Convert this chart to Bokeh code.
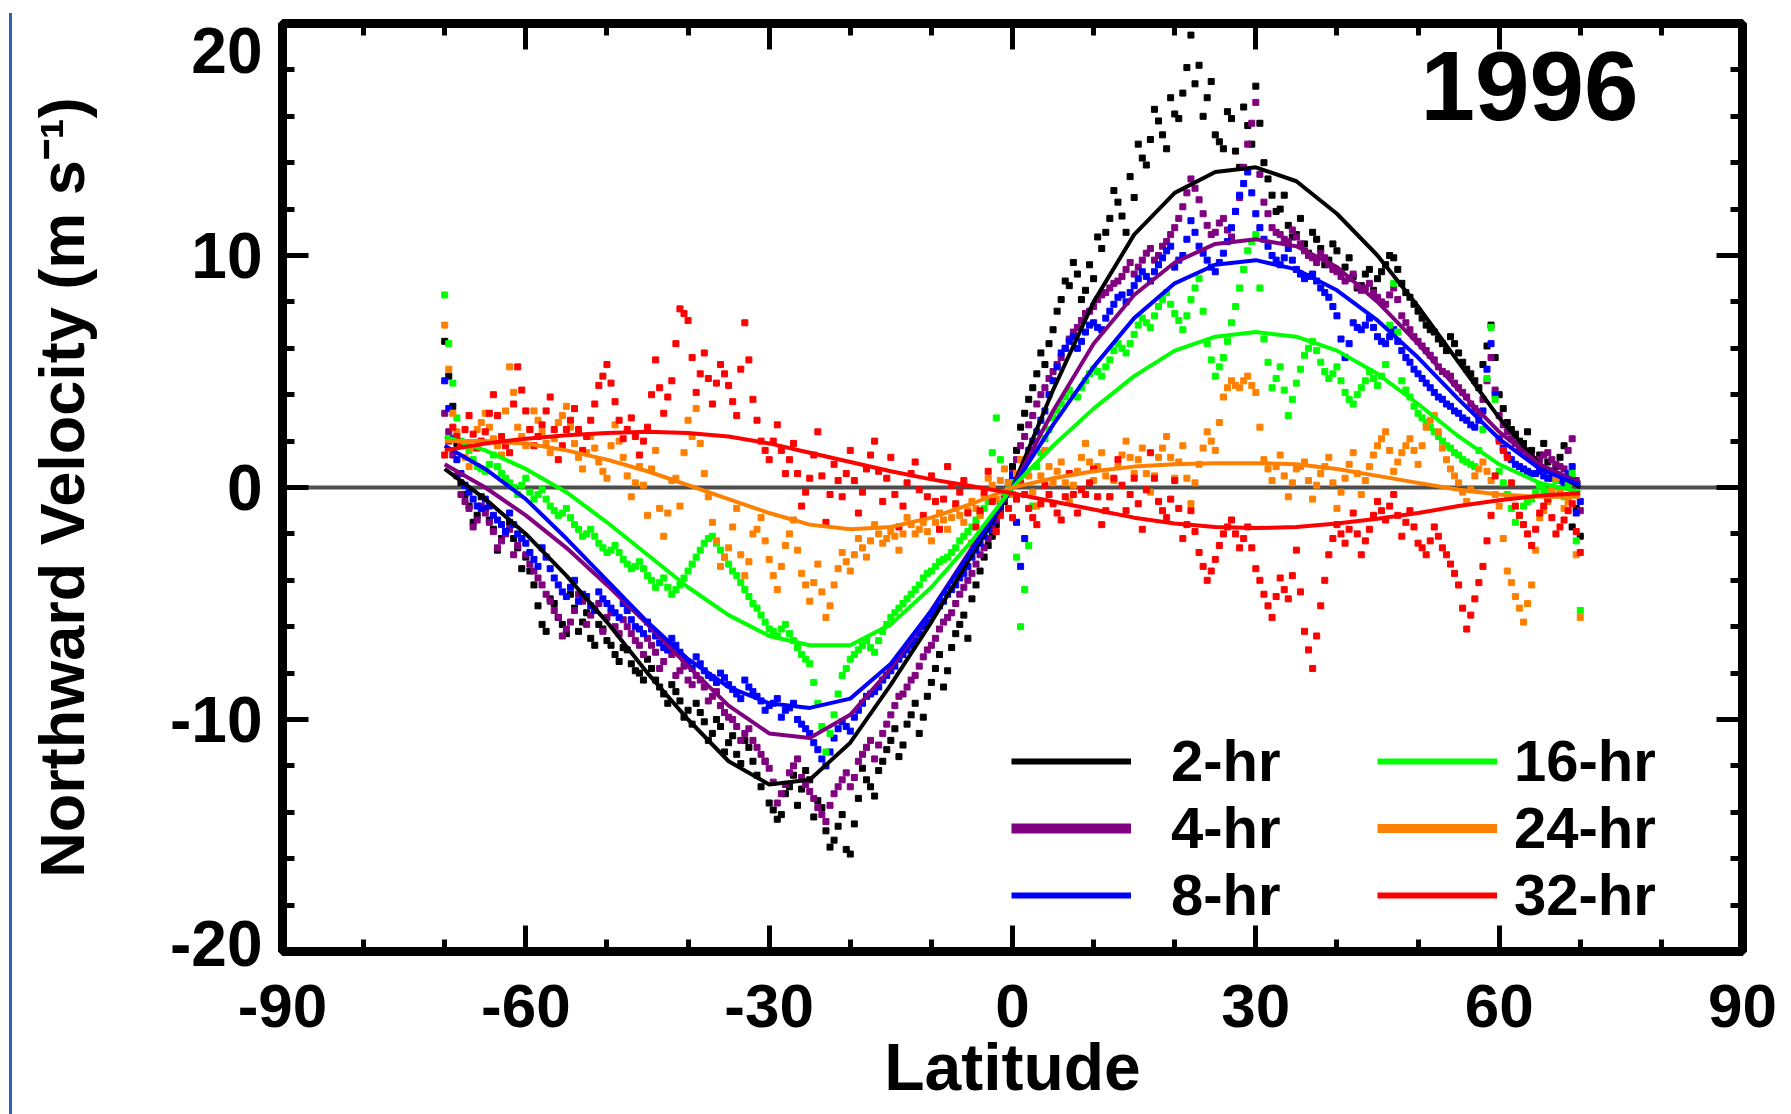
from bokeh.plotting import figure
from bokeh.models import (Range1d, SingleIntervalTicker, LinearAxis, Span, Label,
                          Legend, LegendItem, CustomJSTickFormatter)
from bokeh.embed import file_html
from bokeh.resources import INLINE

# ---------------- data ----------------
lat_start_a = -70.0     # first set of observed points: one per degree from -70
lat_start_b = -69.5     # second set of observed points: one per degree from -69.5
lat_fit = list(range(-70, 71, 5))       # latitude of fitted curves (deg)

labels = ["2-hr", "4-hr", "8-hr", "16-hr", "24-hr", "32-hr"]
colors = ["#000000", "#800080", "#0000ff", "#00ff00", "#ff8000", "#ff0000"]

pts_2hr_a = [6.3, 3.5, 0.2, -0.8, -1.2, -0.9, -1.8, -2.2, -1.5, -2.6, -3.0, -4.2, -5.9, -4.8, -5.6, -6.3,
             -5.2, -5.8, -6.5, -5.9, -6.6, -7.2, -6.9, -7.6, -8.0, -7.4, -8.3, -8.9, -8.5, -9.2, -9.6,
             -9.3, -10.1, -10.6, -10.3, -11.0, -11.5, -10.9, -11.8, -12.9, -13.6, -14.3, -13.2, -12.4,
             -13.0, -12.6, -13.5, -14.8, -15.2, -14.1, -15.8, -13.4, -12.6, -13.3, -11.8, -10.9, -11.6,
             -10.2, -9.3, -9.9, -8.4, -7.2, -7.9, -6.3, -5.5, -4.8, -3.6, -2.5, -1.6, -0.6, 0.9, 2.6,
             3.8, 4.9, 5.3, 6.8, 8.1, 8.7, 9.2, 8.5, 9.0, 10.3, 11.6, 12.3, 11.0, 12.5, 14.2, 15.0, 15.8,
             14.6, 16.1, 17.0, 19.5, 18.2, 16.8, 15.2, 14.6, 15.9, 13.8, 15.6, 17.3, 14.0, 12.6, 12.0,
             11.3, 10.9, 10.5, 11.0, 10.3, 9.8, 10.2, 9.5, 9.1, 8.7, 9.4, 9.0, 9.6, 9.9, 8.8, 8.2, 7.6,
             7.0, 6.7, 6.2, 6.5, 5.8, 5.1, 4.6, 5.3, 7.0, 4.0, 2.8, 2.3, 1.9, 1.6, 1.4, 1.1, 0.9, 1.8,
             -1.7, -2.1]
pts_2hr_b = [4.8, 1.9, -0.3, -1.5, -0.4, -1.4, -2.7, -1.9, -2.2, -3.5, -3.6, -5.1, -6.2, -5.0, -5.9, -4.6,
             -6.2, -5.4, -6.8, -6.1, -6.8, -7.5, -7.0, -7.9, -8.3, -7.8, -8.6, -9.3, -8.8, -9.9, -10.2,
             -9.7, -10.9, -10.0, -11.4, -10.7, -11.9, -11.2, -12.4, -11.8, -13.9, -14.1, -12.9, -13.7,
             -12.2, -14.2, -13.8, -15.5, -14.6, -15.6, -14.5, -12.1, -12.9, -12.2, -11.3, -10.4, -11.1,
             -9.8, -10.6, -9.0, -7.8, -8.6, -6.9, -5.9, -6.5, -4.2, -3.0, -2.1, -1.0, 0.2, 1.6, 3.2, 4.3,
             5.8, 6.2, 7.6, 8.9, 9.7, 8.1, 9.6, 10.8, 11.0, 12.8, 11.7, 13.4, 14.8, 13.9, 16.3, 15.2,
             16.8, 15.9, 18.1, 17.4, 16.0, 17.5, 14.9, 16.2, 14.5, 16.4, 14.8, 15.7, 13.3, 11.9, 12.6,
             10.8, 11.6, 10.1, 10.7, 9.6, 10.5, 9.3, 9.9, 8.6, 9.2, 8.5, 9.3, 10.0, 9.4, 8.4, 7.9, 7.3,
             6.8, 6.4, 5.9, 6.2, 5.4, 4.9, 4.3, 6.1, 5.6, 3.4, 2.5, 2.0, 2.4, 1.2, 1.9, 0.7, 1.3, 0.4,
             -0.9]
pts_4hr_a = [3.2, 1.4, -0.3, -0.9, -1.4, -1.1, -1.9, -2.3, -1.8, -2.5, -2.9, -3.6, -4.2, -4.9, -5.6, -6.1,
             -5.3, -4.9, -5.5, -5.0, -5.6, -6.0, -5.7, -6.3, -6.8, -6.5, -7.1, -7.5, -7.2, -7.9, -8.3,
             -8.1, -8.6, -9.0, -9.4, -9.9, -10.3, -10.6, -10.9, -11.5, -12.1, -13.6, -12.8, -12.0,
             -12.5, -13.1, -13.8, -14.4, -13.2, -12.6, -12.9, -11.8, -11.2, -11.7, -10.6, -9.8, -9.0,
             -8.6, -8.1, -7.3, -6.8, -6.1, -5.6, -5.0, -4.3, -3.7, -2.9, -2.2, -1.4, -0.4, 0.6, 1.8,
             2.7, 3.6, 4.3, 5.0, 5.6, 6.4, 6.9, 7.5, 7.8, 8.3, 8.6, 8.9, 9.4, 9.2, 9.8, 10.3, 10.0,
             10.6, 11.2, 12.1, 13.3, 12.4, 11.3, 11.0, 11.6, 10.8, 12.5, 14.8, 16.6, 12.3, 11.2, 10.9,
             10.6, 10.8, 10.2, 9.9, 10.1, 9.6, 9.3, 8.9, 9.2, 8.5, 8.8, 8.2, 7.9, 8.6, 7.4, 6.8, 6.3,
             5.9, 5.5, 5.0, 4.8, 4.3, 3.9, 3.4, 3.8, 5.6, 3.1, 2.4, 1.9, 1.6, 1.3, 1.2, 1.5, 1.0, 0.8,
             2.1, -1.0]
pts_4hr_b = [2.4, 0.5, -0.6, -1.7, -0.8, -1.5, -2.6, -2.0, -2.9, -2.2, -3.3, -3.9, -4.6, -5.3, -6.4, -5.8,
             -4.6, -5.9, -5.3, -6.2, -5.4, -6.3, -6.0, -6.6, -7.2, -6.8, -7.8, -7.0, -8.1, -7.7, -8.5,
             -8.3, -9.2, -8.8, -9.7, -10.0, -10.9, -10.4, -11.2, -11.8, -12.7, -13.2, -12.3, -11.7,
             -12.8, -13.4, -14.1, -13.7, -12.9, -12.3, -12.5, -11.5, -10.9, -11.1, -10.2, -9.4, -8.9,
             -8.3, -7.7, -7.0, -6.5, -5.8, -5.4, -4.6, -4.0, -3.3, -2.6, -1.8, -0.9, 0.1, 1.2, 2.2, 3.1,
             4.0, 4.7, 5.3, 6.0, 6.7, 7.2, 7.6, 8.1, 8.4, 8.8, 9.1, 9.7, 9.5, 10.1, 9.8, 10.4, 10.9,
             11.6, 12.7, 12.9, 11.8, 10.9, 11.4, 11.1, 11.9, 13.8, 15.7, 13.5, 11.8, 11.0, 10.7, 11.1,
             10.5, 10.0, 9.7, 9.9, 9.4, 9.1, 9.0, 8.7, 8.6, 8.4, 8.0, 8.3, 8.1, 7.1, 6.5, 6.1, 5.7, 5.2,
             4.9, 4.5, 4.1, 3.6, 3.2, 4.6, 4.2, 2.7, 2.1, 1.7, 1.4, 1.1, 1.4, 1.2, 0.9, 1.6, 0.3]
pts_8hr_a = [4.6, 2.1, 0.6, -0.2, -0.8, -0.5, -1.2, -1.6, -1.1, -2.0, -2.4, -3.1, -2.6, -3.5, -4.2, -4.7,
             -4.0, -4.6, -5.1, -4.5, -5.0, -5.4, -5.0, -5.7, -6.1, -5.8, -6.4, -6.9, -6.5, -7.1, -7.6,
             -7.3, -7.9, -8.2, -8.0, -8.5, -8.9, -8.3, -8.8, -9.2, -9.4, -9.1, -9.6, -9.3, -10.2, -10.6,
             -11.3, -12.0, -10.8, -10.1, -10.5, -9.6, -9.0, -8.8, -8.3, -7.9, -7.4, -7.0, -6.6, -6.0,
             -5.5, -5.1, -4.6, -4.2, -3.7, -3.0, -2.4, -1.8, -1.2, -0.3, 0.5, -3.4, 1.6, 2.4, 3.3, 4.6,
             5.8, 6.3, 6.0, 6.7, 7.1, 6.8, 7.6, 8.2, 8.0, 8.7, 9.3, 8.9, 9.6, 10.2, 9.5, 10.0, 11.5,
             10.4, 9.8, 9.3, 10.1, 11.2, 12.6, 13.6, 11.8, 10.7, 10.0, 9.6, 10.3, 9.4, 9.0, 9.2, 8.6,
             8.2, 7.4, 5.6, 7.1, 6.8, 7.3, 6.5, 6.2, 6.8, 5.9, 5.4, 4.9, 4.5, 4.1, 3.8, 3.5, 3.2, 2.9,
             2.6, 3.3, 6.2, 2.1, 1.4, 1.0, 0.8, 0.6, 0.7, 0.4, 0.5, 0.2, 0.9, -0.6]
pts_8hr_b = [3.4, 1.2, 0.1, -0.5, -0.9, -0.8, -1.4, -1.9, -1.6, -2.2, -2.8, -3.4, -3.0, -3.9, -4.5, -4.3,
             -4.9, -4.7, -5.3, -4.8, -5.2, -5.6, -5.3, -6.0, -6.3, -6.1, -6.7, -7.0, -6.8, -7.4, -7.8,
             -7.6, -8.1, -8.4, -8.2, -8.7, -9.1, -8.6, -9.0, -9.6, -9.3, -9.9, -9.5, -10.0, -10.4,
             -11.0, -11.7, -11.4, -10.4, -10.3, -9.9, -9.3, -8.9, -8.6, -8.1, -7.7, -7.2, -6.8, -6.3,
             -5.8, -5.3, -4.9, -4.4, -3.9, -3.4, -2.7, -2.1, -1.5, -0.8, 0.1, -1.5, -2.2, 2.0, 2.9, 4.0,
             5.2, 6.0, 6.5, 6.3, 7.0, 6.9, 7.3, 7.9, 8.3, 8.4, 9.0, 9.1, 9.3, 9.9, 10.4, 9.8, 10.7,
             11.0, 10.1, 9.5, 9.7, 10.6, 11.9, 13.1, 12.7, 11.2, 10.4, 9.8, 9.9, 9.8, 9.2, 9.1, 8.9,
             8.4, 7.8, 6.4, 6.2, 6.9, 7.0, 6.9, 6.3, 6.5, 6.3, 5.6, 5.1, 4.7, 4.3, 3.9, 3.6, 3.3, 3.0,
             2.7, 2.9, 5.1, 4.0, 1.7, 1.2, 0.9, 0.7, 0.6, 0.5, 0.4, 0.3, 0.6, -1.1]
pts_16hr_a = [8.3, 4.5, 2.0, 1.6, 0.9, 0.7, 1.4, 0.6, 0.2, -0.3, 0.4, -0.5, -0.1, -0.8, -1.2, -0.9, -1.6,
              -2.1, -1.8, -2.4, -2.8, -2.5, -3.1, -3.5, -3.2, -3.8, -4.3, -3.9, -4.6, -4.2, -3.6, -3.0,
              -2.4, -2.1, -2.7, -3.3, -3.8, -4.4, -5.0, -5.5, -6.1, -6.4, -5.9, -6.6, -7.2, -7.6, -9.3,
              -11.4, -9.8, -8.1, -7.4, -7.0, -6.6, -7.1, -6.2, -5.6, -5.2, -4.8, -4.4, -3.9, -3.6, -3.2,
              -3.0, -2.6, -2.1, -1.7, -1.2, -0.6, 3.0, -0.3, 0.2, -6.0, -2.5, 0.9, 2.1, 3.0, 3.6, 4.2,
              3.9, 4.6, 5.1, 4.8, 5.5, 6.2, 5.8, 6.6, 7.3, 6.9, 7.8, 8.4, 7.5, 6.8, 8.1, 9.0, 6.2, 4.8,
              5.6, 7.1, 8.6, 10.2, 10.9, 6.4, 4.3, 5.2, 3.1, 4.5, 5.7, 6.3, 5.4, 4.7, 5.2, 4.1, 3.6, 4.3,
              5.0, 4.4, 5.3, 8.8, 4.6, 3.9, 3.2, 2.8, 2.4, 2.0, 1.7, 1.4, 1.1, 0.9, 2.5, 6.9, 0.7, -0.3,
              -1.5, -0.8, -0.5, 0.1, -0.2, 0.3, -0.4, 0.6, -5.3]
pts_16hr_b = [6.2, 3.0, 1.8, 1.2, 0.8, 1.0, 0.9, 0.4, 0.0, 0.1, -0.2, -0.3, -0.5, -1.0, -1.1, -1.3, -1.8,
              -2.0, -2.1, -2.6, -2.7, -2.8, -3.3, -3.4, -3.5, -4.0, -4.1, -4.3, -4.4, -3.9, -3.3, -2.7,
              -2.2, -2.4, -3.0, -3.6, -4.1, -4.7, -5.2, -5.8, -6.2, -6.1, -6.3, -6.9, -7.4, -8.4, -10.3,
              -10.6, -8.9, -7.8, -7.2, -6.8, -6.9, -6.6, -5.9, -5.4, -5.0, -4.6, -4.2, -3.7, -3.4, -3.1,
              -2.8, -2.3, -1.9, -1.4, -0.9, 1.5, 1.2, -0.1, -3.0, -4.4, -0.8, 1.5, 2.5, 3.3, 3.9, 4.0,
              4.3, 4.9, 5.0, 5.2, 5.9, 6.0, 6.2, 7.0, 7.1, 7.4, 8.1, 7.9, 7.2, 7.4, 8.6, 7.6, 5.5, 5.2,
              6.3, 7.8, 9.4, 10.6, 8.6, 5.4, 4.7, 4.2, 3.8, 5.1, 6.0, 5.9, 5.0, 4.9, 4.6, 3.8, 4.0, 4.6,
              4.7, 4.8, 7.0, 6.7, 4.2, 3.5, 3.0, 2.6, 2.2, 1.8, 1.5, 1.2, 1.0, 1.6, 4.7, 3.8, 0.2, -0.9,
              -1.2, -0.6, -0.2, -0.1, 0.0, -0.1, 0.1, -2.3]
pts_24hr_a = [7.0, 3.2, 1.8, 0.9, 2.5, 3.2, 2.1, 1.4, 5.2, 2.6, 1.8, 3.3, 2.4, 1.5, 2.8, 3.5, 1.9, 0.8,
              2.2, 1.1, 0.4, 2.7, 1.3, -0.4, 0.9, -1.2, 1.6, -2.1, 0.3, -0.8, 2.9, 3.4, 0.6, -1.5, -3.4,
              -2.6, -0.9, -3.8, -2.0, -1.3, -3.1, -4.4, -2.5, -1.4, -3.7, -4.9, -3.3, -5.6, -4.2, -2.8,
              -3.6, -2.2, -3.0, -1.6, -2.4, -1.9, -2.7, -1.3, -2.0, -1.5, -2.3, -1.1, -1.8, -0.9, -1.5,
              -0.6, -1.2, 0.4, -0.5, 0.8, -0.3, 1.2, 0.5, -0.8, 1.6, 0.2, 1.1, -0.6, 0.7, 1.9, 0.3, 1.5,
              -0.4, 0.9, 2.0, 0.6, 1.7, -0.2, 1.3, 2.2, 0.4, 1.8, -0.7, 1.0, 2.4, 1.6, 3.9, 4.6, 4.3,
              4.8, 4.1, 1.2, 0.3, 1.4, -0.4, 0.8, 1.1, -0.5, 0.6, 1.3, -0.9, 0.4, 1.5, -0.3, 0.9, 1.8,
              2.4, 0.7, 1.5, 2.1, 1.0, 2.6, 3.1, 1.7, 0.8, 0.2, -0.6, 0.5, 1.1, 0.3, -0.8, -3.6, -4.7,
              -5.8, -4.2, -1.3, -0.6, 0.4, -0.9, -0.3, -5.6]
pts_24hr_b = [5.1, 2.4, 1.3, 1.7, 2.8, 2.6, 1.8, 3.3, 4.1, 2.2, 2.5, 2.9, 1.9, 2.1, 3.1, 2.6, 1.3, 1.5,
              1.7, 0.7, 1.8, 2.0, 0.5, 0.2, 0.1, 0.8, -0.9, -1.1, 0.4, 1.5, 2.2, 1.9, -0.4, -2.3, -3.0,
              -1.7, -2.9, -3.2, -1.8, -2.3, -3.8, -3.4, -2.0, -2.7, -4.2, -4.1, -4.5, -5.1, -3.5, -3.2,
              -2.9, -2.6, -2.3, -2.0, -2.2, -2.1, -2.0, -1.6, -1.8, -1.9, -1.5, -1.4, -1.3, -1.2, -1.0,
              -0.9, -0.4, 0.1, 0.3, 0.2, 0.6, 0.9, -0.2, 0.5, 0.9, 0.7, 0.2, 0.1, 1.3, 1.1, 0.9, 0.5,
              0.3, 1.4, 1.3, 1.2, 0.6, 0.5, 1.7, 1.3, 1.1, 0.4, 0.2, 1.7, 2.0, 2.8, 4.3, 4.4, 4.6, 4.4,
              2.6, 0.8, 0.9, 0.5, 0.2, 0.9, 0.3, 0.1, 0.9, 0.2, -0.2, 1.0, 0.6, 0.3, 1.4, 2.1, 1.6, 1.1,
              1.8, 1.6, 1.8, 2.9, 2.4, 1.2, 0.5, -0.2, -0.1, 0.8, 0.7, -0.3, -2.2, -4.1, -5.2, -5.0,
              -2.7, -1.0, -0.1, -0.2, -0.6, -2.9]
pts_32hr_a = [1.4, 2.6, 1.9, 3.1, 1.7, 2.4, 4.0, 2.2, 1.5, 5.2, 3.3, 1.8, 2.7, 3.9, 1.2, 2.5, 3.4, 1.6,
              2.9, 4.4, 5.3, 3.7, 2.1, 3.0, 1.4, 2.6, 5.5, 3.2, 4.6, 7.7, 7.2, 4.1, 5.8, 3.6, 5.3, 4.4,
              3.1, 7.1, 3.8, 2.0, 1.2, 2.7, 0.6, 1.9, -0.8, 0.4, 2.4, -1.5, 1.0, -0.4, 1.6, -1.1, 0.8,
              2.0, -0.6, 1.3, -1.7, 0.2, 1.1, -1.2, 0.5, -1.8, 0.9, -0.7, 0.3, -2.4, -1.0, 0.7, -1.9,
              -0.5, -1.3, 0.2, -0.9, -1.6, 0.1, -0.7, -1.4, 0.6, -1.1, -0.3, 0.8, -1.6, -0.4, 1.2, -1.0,
              0.4, -1.8, 1.5, -0.6, -1.3, 0.3, -2.2, -1.0, -2.8, -4.0, -3.1, -2.0, -1.4, -2.6, -1.7,
              -3.5, -4.6, -5.6, -3.9, -4.8, -2.7, -6.2, -7.8, -5.1, -2.9, -1.6, -2.4, -1.1, -2.9, -1.8,
              -0.6, -1.4, -0.3, -2.1, -1.0, -2.4, -2.9, -1.7, -2.6, -3.3, -4.2, -6.1, -4.8, -3.4, -1.2,
              2.0, 1.3, -0.8, -1.6, -2.5, -1.1, -0.5, -2.0, -1.4, -0.7, -2.8]
pts_32hr_b = [2.0, 2.2, 2.5, 2.3, 2.0, 3.2, 3.1, 1.8, 3.6, 4.2, 2.5, 2.2, 3.3, 2.5, 1.8, 2.9, 2.5, 2.2,
              3.6, 4.8, 4.5, 2.9, 2.5, 2.2, 2.0, 4.0, 4.3, 3.9, 6.2, 7.5, 5.6, 4.9, 4.7, 4.5, 4.9, 3.7,
              5.1, 5.5, 2.9, 1.6, 2.0, 1.6, 1.2, 0.6, -0.2, 1.4, 0.5, -0.3, 0.3, 0.6, 0.3, -0.2, 1.4,
              0.7, 0.4, -0.3, -0.8, 0.6, -0.1, -0.4, -0.6, -0.5, 0.1, -0.2, -1.1, -1.7, -0.2, -0.6, -1.2,
              -0.9, -0.5, -0.3, -1.3, -0.7, -0.3, -1.1, -0.4, -0.3, -0.1, 0.2, -0.4, -1.0, 0.4, 0.1,
              -0.3, -0.7, -0.1, 0.4, -1.0, -0.5, -0.9, -1.6, -1.9, -3.4, -3.6, -2.5, -1.7, -2.0, -2.2,
              -2.6, -4.0, -5.1, -4.7, -4.4, -3.8, -4.5, -7.0, -6.4, -4.0, -2.2, -2.0, -1.8, -2.0, -2.3,
              -1.2, -1.0, -0.8, -1.2, -1.5, -1.7, -2.6, -2.3, -2.1, -2.9, -3.7, -5.2, -5.5, -4.1, -2.3,
              0.5, 1.6, 0.2, -1.2, -2.0, -1.8, -0.8, -1.3, -1.7, -1.0, -1.9]

fit_2hr = [0.8, -0.5, -2.0, -3.8, -5.8, -8.0, -10.0, -11.8, -12.8, -12.6, -11.0, -8.5, -5.8, -2.9, 0.0,
           4.2, 8.0, 10.9, 12.7, 13.6, 13.8, 13.2, 11.8, 10.0, 7.8, 5.4, 3.0, 1.0, 0.0]
fit_4hr = [1.0, 0.0, -1.2, -2.6, -4.2, -5.9, -7.7, -9.4, -10.6, -10.8, -9.8, -7.8, -5.3, -2.6, 0.0,
           3.3, 6.2, 8.3, 9.7, 10.5, 10.7, 10.4, 9.5, 8.0, 6.2, 4.2, 2.4, 1.0, 0.2]
fit_8hr = [1.8, 0.8, -0.5, -2.2, -4.0, -5.8, -7.4, -8.6, -9.3, -9.5, -9.1, -7.6, -5.3, -2.7, 0.0,
           2.7, 5.2, 7.3, 8.8, 9.6, 9.8, 9.4, 8.5, 7.2, 5.6, 3.8, 2.1, 0.8, 0.1]
fit_16hr = [2.2, 1.6, 0.8, -0.2, -1.5, -2.9, -4.3, -5.5, -6.4, -6.8, -6.8, -5.9, -4.3, -2.3, 0.0,
            1.8, 3.4, 4.8, 5.9, 6.5, 6.7, 6.5, 5.9, 4.9, 3.6, 2.2, 1.0, 0.2, -0.2]
fit_24hr = [2.0, 2.0, 1.9, 1.6, 1.2, 0.7, 0.1, -0.5, -1.1, -1.6, -1.8, -1.7, -1.3, -0.7, 0.0,
            0.4, 0.7, 0.9, 1.0, 1.05, 1.05, 1.0, 0.8, 0.5, 0.2, -0.1, -0.3, -0.4, -0.4]
fit_32hr = [1.6, 1.9, 2.1, 2.25, 2.35, 2.4, 2.35, 2.2, 1.9, 1.5, 1.1, 0.7, 0.35, 0.05, -0.25,
            -0.6, -0.95, -1.3, -1.55, -1.7, -1.75, -1.7, -1.55, -1.35, -1.1, -0.8, -0.55, -0.35, -0.25]

points_a = [pts_2hr_a, pts_4hr_a, pts_8hr_a, pts_16hr_a, pts_24hr_a, pts_32hr_a]
points_b = [pts_2hr_b, pts_4hr_b, pts_8hr_b, pts_16hr_b, pts_24hr_b, pts_32hr_b]
fits = [fit_2hr, fit_4hr, fit_8hr, fit_16hr, fit_24hr, fit_32hr]

x_lo, x_hi, x_step = -90, 90, 30
y_lo, y_hi, y_step = -20, 20, 10
year_label = "1996"
x_title = "Latitude"
y_title = "Northward Velocity (m s\u207b\u00b9)"

# ---------------- figure ----------------
FONT = "Liberation Sans"

p = figure(width=1791, height=1114, output_backend="svg", toolbar_location=None,
           x_range=Range1d(x_lo, x_hi), y_range=Range1d(y_lo, y_hi),
           min_border_left=282, min_border_right=49, min_border_top=23, min_border_bottom=163,
           background_fill_color="white", border_fill_color=None,
           outline_line_color="black", outline_line_width=9,
           styles={"background": "linear-gradient(#2a62b8, #2a62b8) no-repeat 9px 13px / 3px calc(100% - 13px), #ffffff"})
p.grid.visible = False


def style_ticks(ax):
    ax.axis_line_width = 9
    ax.major_tick_in = 26
    ax.major_tick_out = 0
    ax.minor_tick_in = 12
    ax.minor_tick_out = 0
    ax.major_tick_line_width = 5
    ax.minor_tick_line_width = 5


for ax in (p.xaxis[0], p.yaxis[0]):
    style_ticks(ax)
    ax.major_label_text_font = FONT
    ax.major_label_text_font_style = "bold"
    ax.major_label_text_color = "black"
    ax.axis_label_text_font = FONT
    ax.axis_label_text_font_style = "bold"
    ax.axis_label_text_color = "black"

p.xaxis.ticker = SingleIntervalTicker(interval=x_step, num_minor_ticks=3)
p.yaxis.ticker = SingleIntervalTicker(interval=y_step, num_minor_ticks=5)
p.xaxis.formatter = CustomJSTickFormatter(code="return String(tick);")
# end labels of the y axis sit just inside the frame, as in the original
p.yaxis.formatter = CustomJSTickFormatter(
    args=dict(lo=y_lo, hi=y_hi),
    code="if (tick == hi) { return '\\u00a0\\n' + String(tick); }"
         " if (tick == lo) { return String(tick) + '\\n\\u00a0'; } return String(tick);")
p.yaxis.major_label_text_line_height = 0.2
p.xaxis.major_label_text_font_size = "62px"
p.yaxis.major_label_text_font_size = "64px"
p.xaxis.major_label_standoff = 33
p.yaxis.major_label_standoff = 20
p.xaxis.axis_label = x_title
p.xaxis.axis_label_text_font_size = "66px"
p.xaxis.axis_label_standoff = 0
p.yaxis.axis_label = y_title
p.yaxis.axis_label_text_font_size = "63px"
p.yaxis.axis_label_standoff = 70

# mirrored tick marks on top and right
top = LinearAxis(ticker=SingleIntervalTicker(interval=x_step, num_minor_ticks=3),
                 major_label_text_font_size="0px", major_label_text_color=None, major_label_standoff=0)
right = LinearAxis(ticker=SingleIntervalTicker(interval=y_step, num_minor_ticks=5),
                   major_label_text_font_size="0px", major_label_text_color=None, major_label_standoff=0)
for ax in (top, right):
    style_ticks(ax)
p.add_layout(top, "above")
p.add_layout(right, "right")

# zero line
p.add_layout(Span(location=0, dimension="width", line_color="#4d4d4d", line_width=4, level="underlay"))

# observed points
for pa, pb, c in zip(points_a, points_b, colors):
    xa = [lat_start_a + i for i in range(len(pa))]
    xb = [lat_start_b + i for i in range(len(pb))]
    p.scatter(x=xa + xb, y=pa + pb, marker="square", size=6, fill_color=c, line_color=c, line_width=1)

# fitted curves
for fit, c in zip(fits, colors):
    p.line(x=lat_fit, y=fit, line_color=c, line_width=4)

# legend: hidden proxy renderers carry the legend line styles
leg_widths = [6, 10, 6, 6, 9, 6]
proxies = []
for fit, c, w in zip(fits, colors, leg_widths):
    proxies.append(p.line(x=lat_fit, y=fit, line_color=c, line_width=w, visible=False))

leg_x = [729, 729, 729, 1095, 1095, 1095]
leg_y = [157, 90, 23, 157, 90, 23]
leg_standoff = [40, 40, 40, 17, 17, 17]
for lab, r, lx, ly, so in zip(labels, proxies, leg_x, leg_y, leg_standoff):
    leg = Legend(items=[LegendItem(label=lab, renderers=[r])], location=(lx, ly),
                 glyph_width=120, glyph_height=40, label_standoff=so,
                 padding=0, margin=0, border_line_alpha=0, background_fill_alpha=0,
                 label_text_font=FONT, label_text_font_style="bold",
                 label_text_font_size="58px", label_text_color="black")
    p.add_layout(leg, "center")

p.add_layout(Label(x=50.3, y=17.3, text=year_label, text_font=FONT, text_font_style="bold",
                   text_font_size="98px", text_color="black", text_baseline="alphabetic"))

open("out.html", "w").write(file_html(p, INLINE))
